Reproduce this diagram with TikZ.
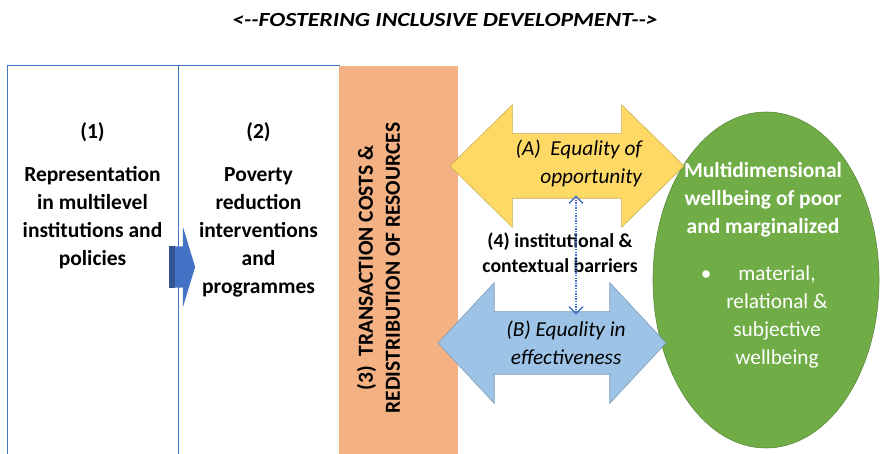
\documentclass[tikz,border=0pt]{standalone}
\usepackage{fontspec}
\setmainfont{Carlito}
\usetikzlibrary{shapes.arrows,shapes.geometric,arrows.meta}
\definecolor{panelblue}{HTML}{4472C4}
\definecolor{costorange}{HTML}{F4B183}
\definecolor{oppyellow}{HTML}{FFD966}
\definecolor{effblue}{HTML}{9DC3E6}
\definecolor{wellgreen}{HTML}{70AD47}
\begin{document}
\begin{tikzpicture}[x=1pt,y=-1pt,
        every node/.style={align=center,inner sep=0pt,outer sep=0pt,
            font=\fontsize{21.5}{28}\selectfont\bfseries},
        panel/.style={draw=panelblue,line width=1pt,minimum height=392pt},
        twoway/.style={double arrow,double arrow head extend=29pt,
            inner xsep=0pt,inner ysep=32pt,line width=0.6pt}, % shaft from inner sep
        tag/.style={font=\fontsize{21.3}{28}\selectfont\itshape},
        barb/.tip={Straight Barb[length=7pt,width=14pt,line width=1.4pt]}
    ]
    \useasboundingbox (0,0) rectangle (880,454);
    \node[font=\fontsize{20}{22}\selectfont\bfseries\itshape] (title) at (445,20)
        {\scalebox{1.19}[1]{<-{}-FOSTERING INCLUSIVE DEVELOPMENT-{}->}};
    \node[panel,minimum width=171pt] (box1) at (92.5,262) {};
    \node[panel,minimum width=161pt] (box2) at (258.5,262) {};
    \node[fill=costorange,minimum width=119pt,minimum height=392pt] (costs) at (398.5,262) {};
    \node (num1) at (92.5,132) {(1)};
    \node (rep) at (92.5,218) {Representation\\in multilevel\\institutions and\\policies};
    \node (num2) at (258.5,132) {(2)};
    \node (pov) at (258.5,232) {Poverty\\reduction\\interventions\\and\\programmes};
    \node[single arrow,fill=panelblue,single arrow head extend=19.5pt,
        single arrow tip angle=146,inner xsep=0pt,inner ysep=20.5pt,
        minimum height=26pt] (flow) at (179,267) {};
    \fill[panelblue!75!black] (flow.after tail) rectangle ([xshift=6pt]flow.before tail);
    \node[rotate=90,font=\fontsize{21.5}{27}\selectfont\bfseries] (cost) at (378.5,268)
        {(3)~~TRANSACTION COSTS \&\\REDISTRIBUTION OF RESOURCES};
    \node[ellipse,fill=wellgreen,draw=wellgreen!80!black,line width=0.6pt,
        minimum width=226pt,minimum height=336pt] (well) at (766,280) {};
    \node[twoway,fill=oppyellow,draw=oppyellow!80!black,double arrow tip angle=89,
        minimum height=234pt] (oppA) at (567,166) {};
    \node[twoway,fill=effblue,draw=effblue!80!black,double arrow tip angle=94,
        inner ysep=31pt,minimum height=228pt] (effB) at (552,343) {};
    \node[tag,anchor=east,align=right] (oppt) at (642,163) {(A)~~Equality of\\opportunity};
    \node[tag] (efft) at (566,343) {(B) Equality in\\effectiveness};
    \node[font=\fontsize{19.8}{25}\selectfont\bfseries] (bar) at (560,252.5)
        {(4) institutional \&\\contextual barriers};
    \draw[panelblue,line width=1.6pt,dash pattern=on 1.4pt off 1.2pt,barb-barb]
        ([xshift=9pt,yshift=3pt]oppA.south) -- ([xshift=24pt,yshift=-3pt]effB.north);
    \node[text=white] (wellt) at (763,200) {Multidimensional\\wellbeing of poor\\and marginalized};
    \node[text=white,font=\fontsize{21.3}{28}\selectfont] (dims) at (777,317)
        {\llap{\textbullet\hspace{27pt}}material,\\relational \&\\subjective\\wellbeing};
\end{tikzpicture}
\end{document}
